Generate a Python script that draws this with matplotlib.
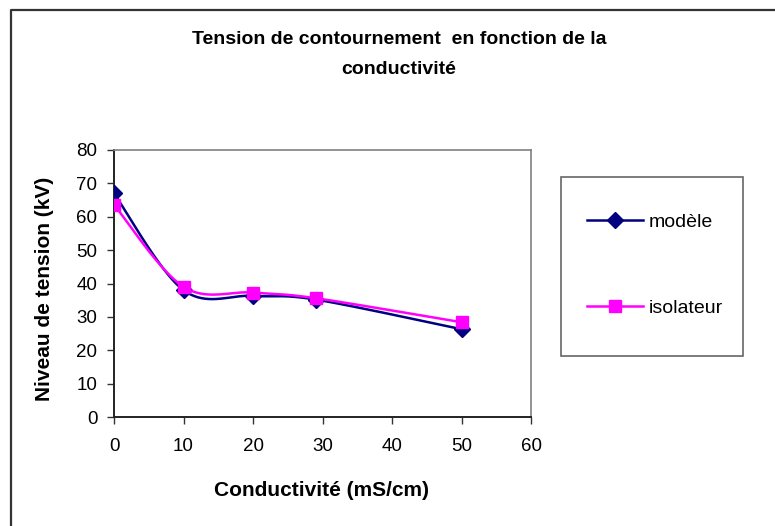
"""Tension de contournement vs conductivité (Excel-style smoothed line chart)."""

import matplotlib
matplotlib.use("Agg")
import matplotlib.pyplot as plt
from matplotlib.lines import Line2D
from matplotlib.patches import Rectangle
import numpy as np

plt.rcParams["font.family"] = ["Liberation Sans", "DejaVu Sans"]

# data
conductivite = [0, 10, 20, 29, 50]
modele = [67.0, 38.0, 36.3, 35.2, 26.3]
isolateur = [63.6, 39.0, 37.3, 35.6, 28.4]

x_ticks = [0, 10, 20, 30, 40, 50, 60]
y_ticks = [0, 10, 20, 30, 40, 50, 60, 70, 80]

W, H = 775, 526


def smooth(xs, ys, n=40):
    """Catmull-Rom curve through the points, like Excel's 'smoothed line'."""
    p = np.column_stack([xs, ys]).astype(float)
    p = np.vstack([p[0], p, p[-1]])
    out = []
    for i in range(1, len(p) - 2):
        p0, p1, p2, p3 = p[i - 1], p[i], p[i + 1], p[i + 2]
        c1 = p1 + (p2 - p0) / 6.0
        c2 = p2 - (p3 - p1) / 6.0
        t = np.linspace(0, 1, n)[:, None]
        seg = ((1 - t) ** 3) * p1 + 3 * ((1 - t) ** 2) * t * c1 \
            + 3 * (1 - t) * t ** 2 * c2 + t ** 3 * p2
        out.append(seg if i == 1 else seg[1:])
    out = np.vstack(out)
    return out[:, 0], out[:, 1]


def fx(px):
    return px / W


def fy(py):
    return 1 - py / H


fig = plt.figure(figsize=(W / 100, H / 100), dpi=100)

# outer chart border (only left/top visible in the crop)
fig.add_artist(Line2D([fx(11), fx(11), 1.0], [0.0, fy(10), fy(10)],
                      transform=fig.transFigure, color="#333333", lw=1.6))

ax = fig.add_axes([fx(114), fy(417), fx(531) - fx(114), fy(150) - fy(417)])

navy = "#000080"
magenta = "#FF00FF"

sx, sy = smooth(conductivite, modele)
ax.plot(sx, sy, color=navy, lw=1.8, zorder=3)
ax.plot(conductivite, modele, ls="none", marker="D", ms=8, color=navy, zorder=4)

sx, sy = smooth(conductivite, isolateur)
ax.plot(sx, sy, color=magenta, lw=1.8, zorder=5)
ax.plot(conductivite, isolateur, ls="none", marker="s", ms=8.5, color=magenta, zorder=6)

ax.set_xlim(0, 60)
ax.set_ylim(0, 80)
ax.set_xticks(x_ticks)
ax.set_yticks(y_ticks)
ax.tick_params(direction="out", length=5, width=1, colors="#333333",
               labelcolor="black", labelsize=13.5)
ax.tick_params(axis="x", pad=10)
ax.tick_params(axis="y", pad=7)
for side in ("left", "bottom"):
    ax.spines[side].set_color("#222222")
    ax.spines[side].set_linewidth(1.4)
for side in ("top", "right"):
    ax.spines[side].set_color("#808080")
    ax.spines[side].set_linewidth(1.2)

fig.text(fx(399), fy(40), "Tension de contournement  en fonction de la",
         ha="center", va="center", fontsize=14, fontweight="bold")
fig.text(fx(399), fy(69), "conductivité",
         ha="center", va="center", fontsize=14, fontweight="bold")
fig.text(fx(322), fy(490), "Conductivité (mS/cm)",
         ha="center", va="center", fontsize=15, fontweight="bold")
fig.text(fx(45), fy(289), "Niveau de tension (kV)", rotation=90,
         ha="center", va="center", fontsize=15, fontweight="bold")

# legend box
fig.add_artist(Rectangle((fx(561), fy(356)), fx(743) - fx(561), fy(177) - fy(356),
                         transform=fig.transFigure, fill=False,
                         edgecolor="#666666", lw=1.2))
handles = [
    Line2D([], [], color=navy, lw=1.8, marker="D", ms=8),
    Line2D([], [], color=magenta, lw=1.8, marker="s", ms=8.5),
]
fig.legend(handles, ["modèle", "isolateur"], loc="center",
           bbox_to_anchor=(fx(655), fy(265)), frameon=False,
           fontsize=14, handlelength=2.9, handletextpad=0.3,
           labelspacing=3.5)

fig.savefig("out.png", dpi=100)
